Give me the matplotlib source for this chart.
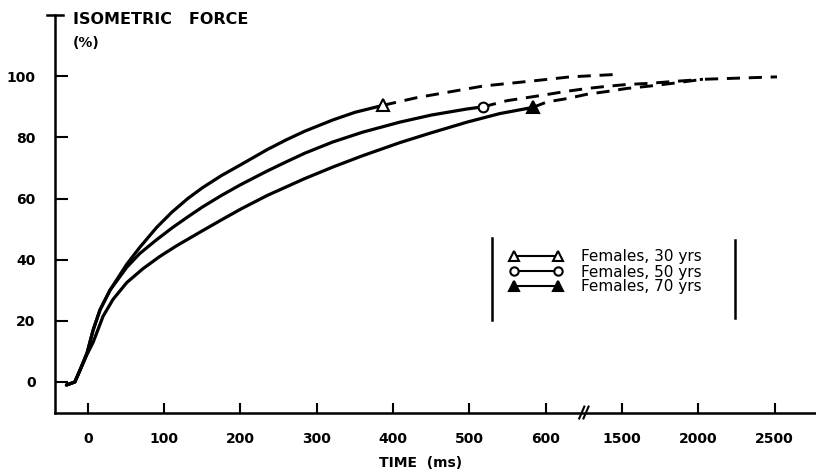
import numpy as np
import matplotlib
matplotlib.use("Agg")
import matplotlib.pyplot as plt
from matplotlib.lines import Line2D

# time (ms) / isometric force (%)
t_30 = [-28, -17, -10, -1, 7, 16, 29, 51, 68, 90, 110, 131, 150, 175, 200, 235, 260, 284, 321, 350, 387]
f_30 = [-1, 0, 4, 9.5, 17, 23.6, 30, 38.5, 44, 50.5, 55.5, 60, 63.5, 67.5, 71, 76, 79.2, 82, 85.7, 88.2, 90.5]
t_50 = [-28, -17, -10, -1, 7, 16, 29, 51, 68, 90, 111, 131, 150, 175, 200, 235, 260, 284, 321, 360, 409, 450, 497, 518]
f_50 = [-1, 0, 4, 9.5, 17, 23.6, 30, 37.5, 42, 46.5, 50.5, 54, 57.2, 61, 64.5, 69, 72, 74.8, 78.5, 81.7, 85, 87.3, 89.3, 90]
t_70 = [-28, -17, -10, -1, 7, 20, 33, 51, 72, 94, 116, 147, 175, 200, 235, 284, 321, 360, 409, 450, 497, 540, 583]
f_70 = [-1, 0, 4, 9, 13, 21.5, 27, 32.5, 37, 41, 44.5, 49, 53, 56.5, 61, 66.5, 70.3, 74, 78.3, 81.5, 85, 87.8, 89.8]

# dashed extrapolations
td_30 = [387, 431, 518, 588, 888, 1437]
fd_30 = [90.5, 93, 96.8, 98.6, 99.8, 100.6]
td_50 = [518, 549, 596, 852, 1086, 1320, 1530, 1684, 1813, 2030]
fd_50 = [90, 92, 93.8, 95.1, 96, 96.7, 97.3, 97.7, 98.2, 99]
td_70 = [583, 615, 852, 1086, 1320, 1530, 1684, 1833, 2030, 2515]
fd_70 = [89.8, 91.6, 92.7, 94.1, 95, 96, 96.8, 97.7, 99, 99.8]

labels = ["Females, 30 yrs", "Females, 50 yrs", "Females, 70 yrs"]
xticks = [0, 100, 200, 300, 400, 500, 600, 1500, 2000, 2500]
yticks = [0, 20, 40, 60, 80, 100]

# broken time axis: 0-600 linear, 600-1500 squeezed into one step, then 500 per step
BRK_T = [-100, 600, 1500, 3000]
BRK_U = [-1, 6, 7, 10]

def fwd(t):
    return np.interp(t, BRK_T, BRK_U)

def inv(u):
    return np.interp(u, BRK_U, BRK_T)

plt.rcParams['font.family'] = ['DejaVu Sans']

fig = plt.figure(figsize=(8.16, 4.72), dpi=100)
ax = fig.add_axes([55 / 816, 0.126, 760 / 816, 0.842])
ax.set_xscale('function', functions=(fwd, inv))
ax.set_xlim(-43, 2764)
ax.set_ylim(-10, 120)

lw = 2.3
dash = (0, (4.5, 3))
for t, f in [(t_30, f_30), (t_50, f_50), (t_70, f_70)]:
    ax.plot(t, f, color='black', lw=lw, solid_capstyle='round', solid_joinstyle='round')
for t, f in [(td_30, fd_30), (td_50, fd_50), (td_70, fd_70)]:
    ax.plot(t, f, color='black', lw=2.1, linestyle=dash)

ax.plot(t_30[-1], f_30[-1], marker='^', ms=8, mfc='white', mec='black', mew=1.5, ls='none', zorder=5)
ax.plot(t_50[-1], f_50[-1], marker='o', ms=7, mfc='white', mec='black', mew=1.5, ls='none', zorder=5)
ax.plot(t_70[-1], f_70[-1], marker='^', ms=8, mfc='black', mec='black', mew=1.5, ls='none', zorder=5)

for s in ['top', 'right']:
    ax.spines[s].set_visible(False)
for s in ['left', 'bottom']:
    ax.spines[s].set_linewidth(1.8)

ax.set_xticks(xticks)
ax.set_xticklabels([str(v) for v in xticks])
ax.set_yticks(yticks)
ax.set_yticklabels([str(v) for v in yticks])
ax.tick_params(axis='x', direction='in', length=7, width=1.5, pad=14, labelsize=10)
ax.tick_params(axis='y', direction='in', length=9, width=1.5, pad=14, labelsize=10)
ax.minorticks_off()
for lab in ax.get_xticklabels() + ax.get_yticklabels():
    lab.set_fontweight('bold')

# T cap on top of y axis
ax.plot([-0.01, 0.01], [1, 1], transform=ax.transAxes, color='black', lw=1.8, clip_on=False)
# axis break marks
brk = ax.get_xaxis_transform()
for dx in (-25, 25):
    ax.plot([1050 + dx - 30, 1050 + dx + 30], [-0.015, 0.015], transform=brk,
            color='black', lw=1.5, clip_on=False)

fig.text(73 / 816, 1 - 20 / 472, "ISOMETRIC   FORCE", fontsize=11.5, fontweight='bold', va='center', ha='left')
fig.text(73 / 816, 1 - 43 / 472, "(%)", fontsize=10, fontweight='bold', va='center', ha='left')
fig.text(421 / 816, 1 - 463 / 472, "TIME  (ms)", fontsize=10, fontweight='bold', va='center', ha='center')

handles = [
    Line2D([], [], color='black', lw=1.5, marker='^', ms=7, mfc='white', mec='black', mew=1.5),
    Line2D([], [], color='black', lw=1.5, marker='o', ms=6, mfc='white', mec='black', mew=1.5),
    Line2D([], [], color='black', lw=1.5, marker='^', ms=7, mfc='black', mec='black', mew=1.5),
]
ax.legend(handles, labels, numpoints=2, frameon=False, loc='center left',
          bbox_to_anchor=(509 / 816, 1 - 272 / 472), bbox_transform=fig.transFigure,
          fontsize=11, handlelength=3.5, handletextpad=1.2, labelspacing=0.0,
          borderpad=0, borderaxespad=0)

# legend side bars
fig.add_artist(Line2D([492 / 816, 492 / 816], [1 - 238 / 472, 1 - 320 / 472], color='black', lw=1.8))
fig.add_artist(Line2D([735 / 816, 735 / 816], [1 - 240 / 472, 1 - 318 / 472], color='black', lw=1.8))

fig.savefig("out.png", dpi=100)
